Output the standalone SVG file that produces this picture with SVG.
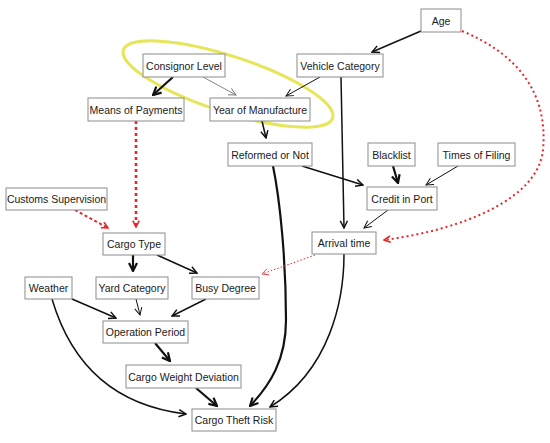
<svg xmlns="http://www.w3.org/2000/svg" width="550" height="443" viewBox="0 0 550 443">
<style>
.n rect{fill:#fff;stroke:#8c8c8c;stroke-width:1}
.n text{font-family:"Liberation Sans",Arial,sans-serif;font-size:10.5px;fill:#1a1a1a;text-anchor:middle}
.e{fill:none;stroke:#111}
.w3{stroke-width:2.2}
.w2{stroke-width:1.5}
.w1{stroke-width:1}
.g{stroke:#777;stroke-width:0.9}
.r{stroke:#e8262a}
</style>
<defs>
<marker id="ak" viewBox="0 0 10 10" refX="9" refY="5" markerWidth="9" markerHeight="9" markerUnits="userSpaceOnUse" orient="auto"><path d="M1,1 L9,5 L1,9" fill="none" stroke="#111" stroke-width="1.6"/></marker>
<marker id="akt" viewBox="0 0 10 10" refX="9" refY="5" markerWidth="10" markerHeight="10" markerUnits="userSpaceOnUse" orient="auto"><path d="M1,1 L9,5 L1,9" fill="none" stroke="#111" stroke-width="2.2"/></marker>
<marker id="akn" viewBox="0 0 10 10" refX="9" refY="5" markerWidth="9" markerHeight="9" markerUnits="userSpaceOnUse" orient="auto"><path d="M1,1 L9,5 L1,9" fill="none" stroke="#111" stroke-width="1.1"/></marker>
<marker id="ag" viewBox="0 0 10 10" refX="9" refY="5" markerWidth="9" markerHeight="9" markerUnits="userSpaceOnUse" orient="auto"><path d="M1,1 L9,5 L1,9" fill="none" stroke="#777" stroke-width="1"/></marker>
<marker id="ar" viewBox="0 0 10 10" refX="9" refY="5" markerWidth="8" markerHeight="8" markerUnits="userSpaceOnUse" orient="auto"><path d="M1,1 L9,5 L1,9" fill="none" stroke="#e8262a" stroke-width="2"/></marker>
<marker id="arn" viewBox="0 0 10 10" refX="9" refY="5" markerWidth="8" markerHeight="8" markerUnits="userSpaceOnUse" orient="auto"><path d="M1,1 L9,5 L1,9" fill="none" stroke="#e8262a" stroke-width="1"/></marker>
</defs>
<rect width="550" height="443" fill="#fff"/>
<ellipse cx="228" cy="84" rx="110" ry="28" transform="rotate(18 228 84)" fill="none" stroke="#e6e65a" stroke-width="3"/>
<g id="connectors">
<path class="e w2" d="M421,31 L372,52" marker-end="url(#ak)"/>
<path class="e r" stroke-width="2" stroke-dasharray="2,3" d="M462,31 C520,55 548,95 543,150 C538,200 460,230 384,240" marker-end="url(#ar)"/>
<path class="e w3" d="M173,77 L153,95" marker-end="url(#akt)"/>
<path class="e g" d="M203,77 L236,95" marker-end="url(#ag)"/>
<path class="e w1" d="M320,77 L286,96" marker-end="url(#akn)"/>
<path class="e w2" d="M341,77 L344,228" marker-end="url(#ak)"/>
<path class="e w2" d="M262,121 L266,138" marker-end="url(#ak)"/>
<path class="e r" stroke-width="2.6" stroke-dasharray="3,3" d="M136,121 L136,227" marker-end="url(#ar)"/>
<path class="e r" stroke-width="2" stroke-dasharray="3,2.5" d="M75,210 L108,228" marker-end="url(#ar)"/>
<path class="e w2" d="M302,166 L363,185" marker-end="url(#ak)"/>
<path class="e w3" d="M273,166 C280,200 286,260 286,320 C286,360 270,385 250,406" marker-end="url(#akt)"/>
<path class="e w3" d="M393,166 L398,183" marker-end="url(#akt)"/>
<path class="e w1" d="M458,166 L426,185" marker-end="url(#akn)"/>
<path class="e w1" d="M388,210 L364,228" marker-end="url(#akn)"/>
<path class="e r" stroke-width="1" stroke-dasharray="1.5,2" d="M315,255 L262,274" marker-end="url(#arn)"/>
<path class="e w2" d="M344,254 C344,300 330,370 270,407" marker-end="url(#ak)"/>
<path class="e w3" d="M133,255 L133,271" marker-end="url(#akt)"/>
<path class="e w2" d="M157,255 L197,273" marker-end="url(#ak)"/>
<path class="e w2" d="M72,299 L116,318" marker-end="url(#ak)"/>
<path class="e w1" d="M136,299 L140,315" marker-end="url(#akn)"/>
<path class="e w2" d="M206,299 L172,316" marker-end="url(#ak)"/>
<path class="e w2" d="M52,299 C70,360 110,405 186,414" marker-end="url(#ak)"/>
<path class="e w3" d="M155,343 L170,361" marker-end="url(#akt)"/>
<path class="e w3" d="M196,388 L217,406" marker-end="url(#akt)"/>
</g>
<g id="age" class="n"><rect x="421" y="9" width="40" height="23"/><text x="441" y="24.5">Age</text></g>
<g id="vehicle-category" class="n"><rect x="297" y="54" width="86" height="23"/><text x="340" y="69.5">Vehicle Category</text></g>
<g id="consignor-level" class="n"><rect x="143" y="54" width="82" height="23"/><text x="184" y="69.5">Consignor Level</text></g>
<g id="means-of-payments" class="n"><rect x="88" y="98" width="96" height="23"/><text x="136" y="113.5">Means of Payments</text></g>
<g id="year-of-manufacture" class="n"><rect x="210" y="98" width="100" height="23"/><text x="260" y="113.5">Year of Manufacture</text></g>
<g id="reformed-or-not" class="n"><rect x="228" y="143" width="84" height="23"/><text x="270" y="158.5">Reformed or Not</text></g>
<g id="blacklist" class="n"><rect x="368" y="143" width="47" height="23"/><text x="391.5" y="158.5">Blacklist</text></g>
<g id="times-of-filing" class="n"><rect x="438" y="143" width="77" height="23"/><text x="476.5" y="158.5">Times of Filing</text></g>
<g id="credit-in-port" class="n"><rect x="367" y="187" width="70" height="23"/><text x="402" y="202.5">Credit in Port</text></g>
<g id="arrival-time" class="n"><rect x="312" y="232" width="64" height="22"/><text x="344" y="247">Arrival time</text></g>
<g id="customs-supervision" class="n"><rect x="6" y="188" width="101" height="22"/><text x="56.5" y="203">Customs Supervision</text></g>
<g id="cargo-type" class="n"><rect x="103" y="233" width="62" height="22"/><text x="134" y="248">Cargo Type</text></g>
<g id="weather" class="n"><rect x="25" y="277" width="47" height="22"/><text x="48.5" y="292">Weather</text></g>
<g id="yard-category" class="n"><rect x="96" y="277" width="72" height="22"/><text x="132" y="292">Yard Category</text></g>
<g id="busy-degree" class="n"><rect x="192" y="277" width="67" height="22"/><text x="225.5" y="292">Busy Degree</text></g>
<g id="operation-period" class="n"><rect x="103" y="321" width="85" height="22"/><text x="145.5" y="336">Operation Period</text></g>
<g id="cargo-weight-deviation" class="n"><rect x="126" y="365" width="115" height="23"/><text x="183.5" y="380.5">Cargo Weight Deviation</text></g>
<g id="cargo-theft-risk" class="n"><rect x="192" y="409" width="84" height="22"/><text x="234" y="424">Cargo Theft Risk</text></g>
</svg>
